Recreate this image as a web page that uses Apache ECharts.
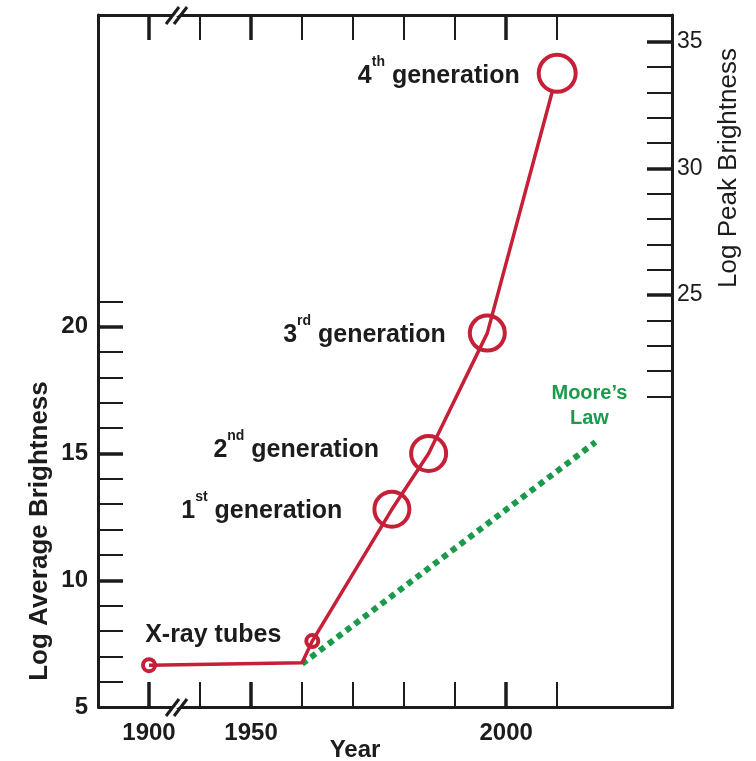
<!DOCTYPE html>
<html>
<head>
<meta charset="utf-8">
<script src="https://cdn.jsdelivr.net/npm/echarts@6/dist/echarts.min.js"></script>
<style>
html,body{margin:0;padding:0;background:#ffffff;}
#c{width:756px;height:761px;}
</style>
</head>
<body>
<div id="c"></div>
<script>
// ---------------- data ----------------
const genYears  = [1900, 1960, 1962, 1977.6, 1984.8, 1996.3, 2010];
const genValues = [6.65, 6.75, 7.6, 12.8, 15.0, 19.75, 30.0];
const pointKind = ['tube', 'vertex', 'tube', 'gen', 'gen', 'gen', 'gen'];
const pointLabels = ['', '', 'X-ray tubes', '1st generation', '2nd generation', '3rd generation', '4th generation'];

const mooreYears  = [1960, 2017.5];
const mooreValues = [6.7, 15.45];
const mooreLabel  = "Moore\u2019s\nLaw";

const xBreak      = [1905, 1935];
const xTicks      = [1900, 1940, 1950, 1960, 1970, 1980, 1990, 2000, 2010];
const xMajorTicks = [1900, 1950, 2000];
const xTickLabels = [1900, 1950, 2000];

const leftTicks       = [6, 7, 8, 9, 10, 11, 12, 13, 14, 15, 16, 17, 18, 19, 20, 21];
const leftMajorTicks  = [10, 15, 20];
const leftTickLabels  = [5, 10, 15, 20];

const rightTicks      = [21, 22, 23, 24, 25, 26, 27, 28, 29, 30, 31, 32, 33, 34, 35];
const rightMajorTicks = [25, 30, 35];
const rightTickLabels = [25, 30, 35];

const xTitle = 'Year';
const leftTitle = 'Log Average Brightness';
const rightTitle = 'Log Peak Brightness';

// ---------------- style / layout ----------------
const X_MIN = 1890, X_MAX = 2032.5;
const L_MIN = 5, L_MAX = 32.3;
const R_MIN = 8.75, R_MAX = 36.05;
const RED = '#c61f38', GREEN = '#1c9a4c', INK = '#1c1c1c';
const FONT = '"Liberation Sans", Arial, Helvetica, sans-serif';
const LABEL_SIZE = 25;

const labelLayout = {
  'X-ray tubes':    {distance: 23, offset: [0, -6]},
  '1st generation': {distance: 30, offset: [0, 2]},
  '2nd generation': {distance: 30, offset: [0, -3]},
  '3rd generation': {distance: 22, offset: [0, 2]},
  '4th generation': {distance: 17, offset: [0, 3]}
};

const chart = echarts.init(document.getElementById('c'), null, {renderer: 'canvas'});

function xAx(pos, ticks, w, showLine, labels) {
  return {
    type: 'value', position: pos, min: X_MIN, max: X_MAX,
    breaks: [{start: xBreak[0], end: xBreak[1], gap: 0}],
    breakArea: {show: false, expandOnClick: false},
    axisLine: {show: showLine, onZero: false, lineStyle: {color: INK, width: 3}},
    axisTick: {show: true, inside: true, length: 25, customValues: ticks, lineStyle: {color: INK, width: w}},
    axisLabel: labels ? {
      show: true, customValues: labels, margin: 14,
      fontFamily: FONT, fontSize: 24, fontWeight: 'bold', color: INK,
      formatter: v => String(v)
    } : {show: false},
    splitLine: {show: false}
  };
}
function yAx(pos, min, max, ticks, w, showLine, labels, bold) {
  return {
    type: 'value', position: pos, min: min, max: max,
    axisLine: {show: showLine, onZero: false, lineStyle: {color: INK, width: 3}},
    axisTick: {show: true, inside: true, length: 25, customValues: ticks, lineStyle: {color: INK, width: w}},
    axisLabel: labels ? {
      show: true, customValues: labels, margin: bold ? 10 : 5,
      fontFamily: FONT, fontSize: bold ? 24 : 23, fontWeight: bold ? 'bold' : 'normal', color: INK,
      formatter: v => String(v)
    } : {show: false},
    splitLine: {show: false}
  };
}

function richLabel(txt) {
  const m = txt.match(/^(\d)(st|nd|rd|th) (.*)$/);
  if (!m) return txt;
  return '{n|' + m[1] + '}{s|' + m[2] + '}{n| ' + m[3] + '}';
}

const redData = genYears.map((x, i) => {
  const kind = pointKind[i];
  const last = i === genYears.length - 1;
  const item = {value: [x, genValues[i]]};
  if (kind === 'vertex') {
    item.symbol = 'none';
    item.symbolSize = 0;
  } else {
    item.symbol = 'circle';
    item.symbolSize = kind === 'gen' ? (last ? 37 : 35) : 12;
    if (last) item.itemStyle = {color: '#ffffff'};
  }
  const t = pointLabels[i];
  if (t) {
    const lay = labelLayout[t] || {distance: 20, offset: [0, 0]};
    item.label = {
      show: true, position: 'left', distance: lay.distance, offset: lay.offset,
      formatter: richLabel(t),
      fontFamily: FONT, fontSize: LABEL_SIZE, fontWeight: 'bold', color: INK,
      rich: {
        n: {fontFamily: FONT, fontSize: LABEL_SIZE, fontWeight: 'bold', color: INK, lineHeight: 42},
        s: {fontFamily: FONT, fontSize: 14, fontWeight: 'bold', color: INK, lineHeight: 15, verticalAlign: 'top'}
      }
    };
  }
  return item;
});

const mooreData = mooreYears.map((x, i) => {
  const item = {value: [x, mooreValues[i]], symbol: 'none'};
  if (i === mooreYears.length - 1) {
    item.symbol = 'circle';
    item.symbolSize = 1;
    item.itemStyle = {color: 'rgba(0,0,0,0)'};
    item.label = {
      show: true, position: 'top', distance: 11, offset: [-6, 0],
      formatter: mooreLabel, align: 'center',
      fontFamily: FONT, fontSize: 20, fontWeight: 'bold', color: GREEN, lineHeight: 25
    };
  }
  return item;
});

chart.setOption({
  animation: false,
  backgroundColor: '#ffffff',
  grid: {left: 98, right: 84, top: 15, bottom: 54, containLabel: false, outerBoundsMode: 'none'},
  xAxis: [
    xAx('bottom', xTicks, 2, true, xTickLabels),
    xAx('bottom', xMajorTicks, 3.5, false, null),
    xAx('top', xTicks, 2, true, null),
    xAx('top', xMajorTicks, 3.5, false, null)
  ],
  yAxis: [
    yAx('left', L_MIN, L_MAX, leftTicks, 2, true, leftTickLabels, true),
    yAx('left', L_MIN, L_MAX, leftMajorTicks, 3.5, false, null, true),
    yAx('right', R_MIN, R_MAX, rightTicks, 2, true, rightTickLabels, false),
    yAx('right', R_MIN, R_MAX, rightMajorTicks, 3.5, false, null, false)
  ],
  series: [
    {
      name: 'Moore', type: 'line', xAxisIndex: 0, yAxisIndex: 0,
      data: mooreData, showSymbol: true, showAllSymbol: true, z: 2,
      lineStyle: {color: GREEN, width: 6, type: [6, 5], cap: 'butt'},
      itemStyle: {color: GREEN}
    },
    {
      name: 'Sources', type: 'line', xAxisIndex: 0, yAxisIndex: 0,
      data: redData, showSymbol: true, showAllSymbol: true, z: 3,
      lineStyle: {color: RED, width: 3.5},
      itemStyle: {color: 'rgba(255,255,255,0)', borderColor: RED, borderWidth: 4}
    }
  ]
});

// axis titles and break marks
function breakMark(bx, y) {
  const a = [[-10.5, 9], [2.5, -8]], b = [[-2.5, 9], [10.5, -8]];
  return [
    {type: 'polygon', z: 100, silent: true,
     shape: {points: [[bx + a[0][0] + 1.5, y + 4], [bx + b[0][0] - 1.5, y + 4], [bx + b[1][0] - 1.5, y - 4], [bx + a[1][0] + 1.5, y - 4]]},
     style: {fill: '#ffffff'}},
    {type: 'line', z: 101, silent: true,
     shape: {x1: bx + a[0][0], y1: y + a[0][1], x2: bx + a[1][0], y2: y + a[1][1]},
     style: {stroke: INK, lineWidth: 3}},
    {type: 'line', z: 101, silent: true,
     shape: {x1: bx + b[0][0], y1: y + b[0][1], x2: bx + b[1][0], y2: y + b[1][1]},
     style: {stroke: INK, lineWidth: 3}}
  ];
}
const bx = chart.convertToPixel({xAxisIndex: 0}, xBreak[0]) + 2;
const yBottom = chart.convertToPixel({yAxisIndex: 0}, L_MIN);
const yTop = chart.convertToPixel({yAxisIndex: 0}, L_MAX);

chart.setOption({
  graphic: [
    ...breakMark(bx, yBottom),
    ...breakMark(bx, yTop),
    {type: 'text', z: 100, x: 355, y: 750,
     style: {text: xTitle, font: 'bold 24px ' + FONT, fill: INK, align: 'center', verticalAlign: 'middle'}},
    {type: 'text', z: 100, x: 40, y: 531, rotation: Math.PI / 2,
     style: {text: leftTitle, font: 'bold 26px ' + FONT, fill: INK, align: 'center', verticalAlign: 'middle'}},
    {type: 'text', z: 100, x: 729, y: 168, rotation: Math.PI / 2,
     style: {text: rightTitle, font: '26px ' + FONT, fill: INK, align: 'center', verticalAlign: 'middle'}}
  ]
});
</script>
</body>
</html>
